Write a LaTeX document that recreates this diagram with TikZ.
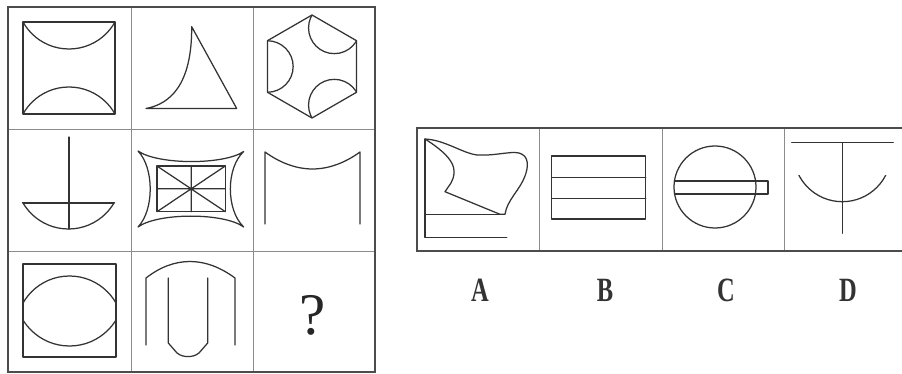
\documentclass[tikz,border=0pt]{standalone}
\usepackage{fontspec}
\usepackage{graphicx}
\setmainfont{Liberation Serif}
\begin{document}
\begin{tikzpicture}[x=1pt,y=-1pt,
  fig/.style={draw=black!80,line width=1.25pt,line join=round,line cap=round},
  thinrule/.style={draw=black!45,line width=0.9pt},
  thickrule/.style={draw=black!70,line width=2.6pt},
  lab/.style={inner sep=0pt,font=\fontsize{34}{34}\selectfont\bfseries,text=black!80}]
\fill[white] (0,0) rectangle (902,374);
\path[use as bounding box] (0,0) rectangle (902,374);

% ---------- 3x3 grid ----------
\draw[thinrule] (131,7) -- (131,372) (253,7) -- (253,372)
                (8,129) -- (375,129) (8,251) -- (375,251);
\draw[thickrule] (8,7) rectangle (375,372);

% cell 1: square with two arcs
\draw[fig] (23,22) rectangle (115,114);
\begin{scope}
  \clip (23,22) rectangle (115,114);
  \draw[fig] (69,-3.7) circle[radius=52.7pt];
  \draw[fig] (69,139.7) circle[radius=52.7pt];
\end{scope}

% cell 2: curved triangle
\draw[fig] (146,108.5) .. controls (170,104) and (192,85) .. (191.7,26.7)
  -- (236.7,108.5) -- cycle;

% cell 3: hexagon with three semicircles
\draw[fig] (312,15) -- (356.6,40.75) -- (356.6,92.25) -- (312,118)
  -- (267.4,92.25) -- (267.4,40.75) -- cycle;
\begin{scope}
  \clip (312,15) -- (356.6,40.75) -- (356.6,92.25) -- (312,118)
    -- (267.4,92.25) -- (267.4,40.75) -- cycle;
  \draw[fig] (267.4,66.5) circle[radius=25.75pt];
  \draw[fig] (334.3,27.9) circle[radius=25.75pt];
  \draw[fig] (334.3,105.1) circle[radius=25.75pt];
\end{scope}

% cell 4: umbrella-like
\draw[fig] (69,137) -- (69,229);
\draw[fig] (23,203) -- (114,203);
\begin{scope}
  \clip (15,203) rectangle (125,240);
  \draw[fig] (68.5,176.2) circle[radius=52.8pt];
\end{scope}

% cell 5: four-pointed star with divided rectangle
\draw[fig] (138,151) .. controls (158,165) and (224,165) .. (243.7,151.5)
  .. controls (225.9,168) and (225.9,210) .. (243.7,227)
  .. controls (224,212.5) and (158,212.5) .. (138,227)
  .. controls (154.3,210) and (154.3,168) .. cycle;
\draw[fig] (157,166) rectangle (225.3,211.7);
\draw[fig] (157,166) -- (225.3,211.7) (157,211.7) -- (225.3,166)
  (191.2,166) -- (191.2,211.7) (157,188.8) -- (225.3,188.8);

% cell 6: two posts with a sagging top
\draw[fig] (265,224) -- (265,152) parabola bend (312.5,169) (360,152) -- (360,224);

% cell 7: square with lens
\draw[fig] (23,264) rectangle (116,357);
\begin{scope}
  \clip (23,264) rectangle (116,357);
  \draw[fig] (69.5,329.5) circle[radius=53.5pt];
  \draw[fig] (69.5,291.4) circle[radius=54.6pt];
\end{scope}

% cell 8: arch with inner U
\draw[fig] (146,345) -- (146,278) .. controls (160,267) and (175,261.5) .. (190,261.5)
  .. controls (205,261.5) and (220,267) .. (235,278) -- (235,345);
\draw[fig] (168.3,278) -- (168.3,343) -- (177,353)
  .. controls (181,356) and (184,356.5) .. (188,356.5)
  .. controls (192,356.5) and (195,356) .. (199,353)
  -- (207.7,343) -- (207.7,278);

% cell 9: question mark
\node[inner sep=0pt,font=\fontsize{59}{59}\selectfont,text=black!85] (q) at (313,315) {?};

% ---------- options panel ----------
\draw[thinrule] (539,128) -- (539,251) (662,128) -- (662,251) (784,128) -- (784,251);
\draw[thickrule] (903,128) -- (417,128) -- (417,251) -- (903,251);

% option A
\draw[fig] (425,139) -- (425,237.7) -- (506.7,237.7);
\draw[fig] (425,214.3) -- (501.7,214.3);
\draw[fig] (425,139) .. controls (445,140) and (462,153) .. (477,155)
  .. controls (495,156) and (510,151) .. (519,153)
  .. controls (530,156) and (528,168) .. (525,176)
  .. controls (520,190) and (507,200) .. (505,214.3)
  -- (500,214.3) -- (445,191.7) -- (451,183)
  .. controls (458,170) and (455,158) .. cycle;

% option B
\draw[fig] (551.7,156) rectangle (645.7,219);
\draw[fig] (551.7,177.7) -- (645.7,177.7) (551.7,198.3) -- (645.7,198.3);

% option C
\draw[fig] (715,187) circle[radius=41pt];
\draw[fig] (674.4,181) -- (768,181) -- (768,194) -- (674.4,194);

% option D
\draw[fig] (791.7,142.7) -- (893.3,142.7);
\draw[fig] (842.7,142.7) -- (842.7,233.3);
\begin{scope}
  \clip (785,176) rectangle (900,215);
  \draw[fig] (842.3,152.9) circle[radius=48.8pt];
\end{scope}

% labels
\node[lab] (la) at (480,290) {\scalebox{0.72}[1]{A}};
\node[lab] (lb) at (605,290) {\scalebox{0.72}[1]{B}};
\node[lab] (lc) at (726,290) {\scalebox{0.72}[1]{C}};
\node[lab] (ld) at (848,290) {\scalebox{0.72}[1]{D}};
\end{tikzpicture}
\end{document}
